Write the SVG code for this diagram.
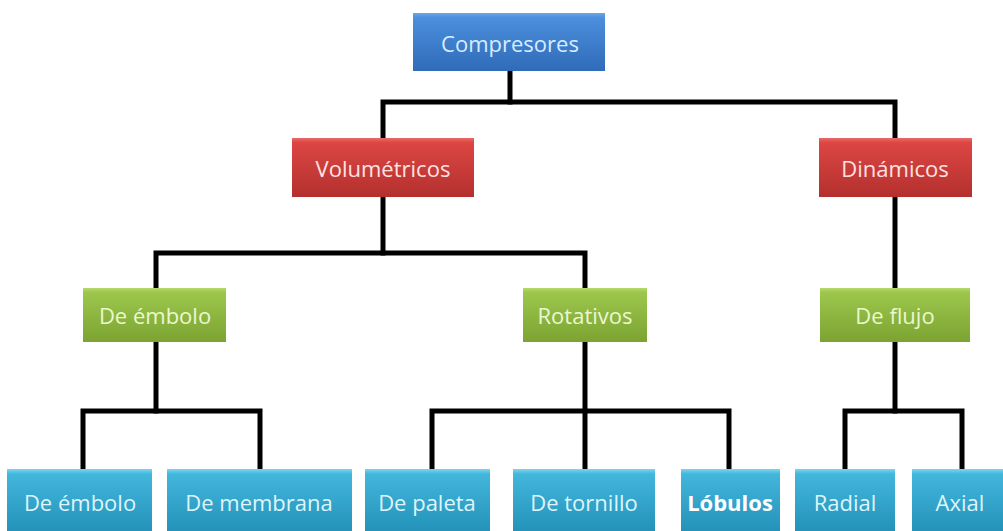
<svg xmlns="http://www.w3.org/2000/svg" width="1003" height="531" viewBox="0 0 1003 531">
<defs>
<linearGradient id="gBlue" x1="0" y1="0" x2="0" y2="1">
<stop offset="0" stop-color="#6aa6e8"/><stop offset="0.08" stop-color="#4c8fdc"/><stop offset="1" stop-color="#2f6bb9"/>
</linearGradient>
<linearGradient id="gRed" x1="0" y1="0" x2="0" y2="1">
<stop offset="0" stop-color="#ea6a66"/><stop offset="0.08" stop-color="#dc4643"/><stop offset="1" stop-color="#b3302e"/>
</linearGradient>
<linearGradient id="gGreen" x1="0" y1="0" x2="0" y2="1">
<stop offset="0" stop-color="#b6d96c"/><stop offset="0.08" stop-color="#9cc74c"/><stop offset="1" stop-color="#7ca332"/>
</linearGradient>
<linearGradient id="gCyan" x1="0" y1="0" x2="0" y2="1">
<stop offset="0" stop-color="#7cd6ee"/><stop offset="0.08" stop-color="#43b6dc"/><stop offset="1" stop-color="#2492b9"/>
</linearGradient>
<style>
text{font-family:"Open Sans","Noto Sans","Liberation Sans",sans-serif;font-size:22px;text-anchor:middle;dominant-baseline:central}
.b{fill:url(#gBlue)} .r{fill:url(#gRed)} .g{fill:url(#gGreen)} .c{fill:url(#gCyan)}
.tb{fill:#d8ecff} .tr{fill:#ffe2e0} .tg{fill:#eaf7d2} .tc{fill:#def5fc}
.bold{fill:#ffffff;font-weight:bold}
.conn path{fill:none;stroke:#000;stroke-width:5;stroke-linejoin:miter;stroke-linecap:square}
</style>
</defs>
<rect width="1003" height="531" fill="#ffffff"/>
<g class="conn" id="connectors">
<path d="M510,71 V102"/>
<path d="M383,138 V102 H895 V138"/>
<path d="M383,197 V253"/>
<path d="M156,288 V253 H585 V288"/>
<path d="M895,197 V288"/>
<path d="M156,342 V411"/>
<path d="M83,469 V411 H260 V469"/>
<path d="M585,342 V469"/>
<path d="M432,469 V411 H729 V469"/>
<path d="M895,342 V411"/>
<path d="M845,469 V411 H962 V469"/>
</g>
<g id="n-compresores"><rect class="b" x="413" y="13" width="192" height="58"/><text class="tb" x="510" y="43">Compresores</text></g>
<g id="n-volumetricos"><rect class="r" x="292" y="138" width="182" height="59"/><text class="tr" x="383" y="168">Volumétricos</text></g>
<g id="n-dinamicos"><rect class="r" x="819" y="138" width="153" height="59"/><text class="tr" x="895" y="168">Dinámicos</text></g>
<g id="n-deembolo-g"><rect class="g" x="83" y="288" width="143" height="54"/><text class="tg" x="155" y="315">De émbolo</text></g>
<g id="n-rotativos"><rect class="g" x="523" y="288" width="124" height="54"/><text class="tg" x="585" y="315">Rotativos</text></g>
<g id="n-deflujo"><rect class="g" x="820" y="288" width="150" height="54"/><text class="tg" x="895" y="315">De flujo</text></g>
<g id="n-deembolo"><rect class="c" x="7" y="469" width="145" height="62"/><text class="tc" x="80" y="502">De émbolo</text></g>
<g id="n-demembrana"><rect class="c" x="167" y="469" width="185" height="62"/><text class="tc" x="259" y="502">De membrana</text></g>
<g id="n-depaleta"><rect class="c" x="365" y="469" width="125" height="62"/><text class="tc" x="427" y="502">De paleta</text></g>
<g id="n-detornillo"><rect class="c" x="513" y="469" width="142" height="62"/><text class="tc" x="584" y="502">De tornillo</text></g>
<g id="n-lobulos"><rect class="c" x="681" y="469" width="99" height="62"/><text class="bold" x="730" y="502">Lóbulos</text></g>
<g id="n-radial"><rect class="c" x="795" y="469" width="100" height="62"/><text class="tc" x="845" y="502">Radial</text></g>
<g id="n-axial"><rect class="c" x="912" y="469" width="91" height="62"/><text class="tc" x="960" y="502">Axial</text></g>
</svg>
